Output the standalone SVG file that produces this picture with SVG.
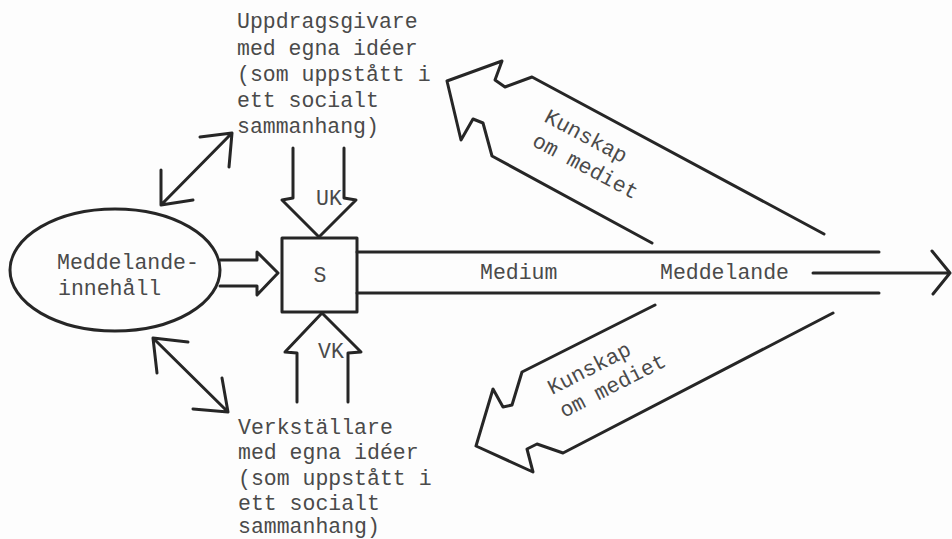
<svg xmlns="http://www.w3.org/2000/svg" width="952" height="539" viewBox="0 0 952 539">
<style>
.ln{fill:none;stroke:#262626;stroke-width:3;stroke-linejoin:round;stroke-linecap:round}
.tx{font-family:"Liberation Mono","DejaVu Sans Mono",monospace;font-size:21.5px;fill:#4a4a4a}
</style>
<rect width="952" height="539" fill="#fdfdfd"/>
<g id="node-content">
<ellipse class="ln" cx="115" cy="270" rx="105" ry="61"/>
<text class="tx" x="57" y="269">Meddelande-</text>
<text class="tx" x="58" y="295">innehåll</text>
</g>
<g id="node-s">
<rect class="ln" x="282" y="238" width="75" height="74"/>
<text class="tx" x="320" y="282" text-anchor="middle">S</text>
</g>
<g id="node-uppdragsgivare">
<text class="tx" x="237" y="28">Uppdragsgivare</text>
<text class="tx" x="237" y="55">med egna idéer</text>
<text class="tx" x="237" y="81">(som uppstått i</text>
<text class="tx" x="237" y="107">ett socialt</text>
<text class="tx" x="237" y="133">sammanhang)</text>
</g>
<g id="node-verkstallare">
<text class="tx" x="238" y="434">Verkställare</text>
<text class="tx" x="238" y="459">med egna idéer</text>
<text class="tx" x="238" y="485">(som uppstått i</text>
<text class="tx" x="238" y="510">ett socialt</text>
<text class="tx" x="238" y="533">sammanhang)</text>
</g>
<g id="node-medium">
<line class="ln" x1="357" y1="252" x2="879" y2="252"/>
<line class="ln" x1="357" y1="293" x2="879" y2="293"/>
<text class="tx" x="480" y="279">Medium</text>
<text class="tx" x="660" y="279">Meddelande</text>
</g>
<g id="connectors">
<path class="ln" d="M220,260 L257,260 L257,252 L278,273 L257,295 L257,286 L220,286"/>
<path class="ln" d="M293,148 L293,198 L282,200 L319,237 L356,200 L344,198 L344,148"/>
<text class="tx" x="329" y="205" text-anchor="middle">UK</text>
<path class="ln" d="M297,402 L297,353 L285,352 L322,313 L361,352 L348,353 L348,402"/>
<text class="tx" x="331" y="358" text-anchor="middle">VK</text>
<path class="ln" d="M161,205 L232,133 M200,137 L232,133 L229,167 M161,170 L161,205 L193,200"/>
<path class="ln" d="M153,338 L228,412 M188,342 L153,338 L157,373 M222,378 L228,412 L193,409"/>
<path class="ln" d="M813,273 L950,273 M932,251 L950,273 L933,294"/>
<path class="ln" d="M652,243 L492,156 L483,123 L473,119 L461,140 L447,81 L502,61 L495,80 L505,87 L532,77 L824,234"/>
<text class="tx" transform="translate(543,121) rotate(28)">Kunskap</text>
<text class="tx" transform="translate(531,145) rotate(28)">om mediet</text>
<path class="ln" d="M655,305 L522,372 L512,405 L503,407 L493,389 L476,446 L533,472 L527,449 L537,444 L563,453 L833,313"/>
<text class="tx" transform="translate(552,395) rotate(-27)">Kunskap</text>
<text class="tx" transform="translate(564,418) rotate(-27)">om mediet</text>
</g>
</svg>
